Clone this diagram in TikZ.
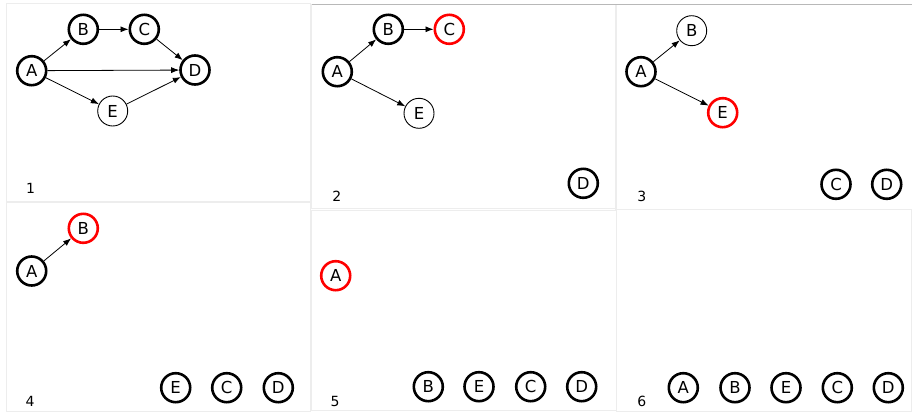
\documentclass[tikz,border=0pt]{standalone}
\usepackage{fontspec}
\setsansfont{DejaVu Sans}
\usetikzlibrary{arrows.meta}
\begin{document}
\begin{tikzpicture}[font=\sffamily, x=1pt, y=-1pt]

        % Stili per nodi, archi e cornici
        \tikzstyle{vtx}=[circle, draw, line width=2.6pt, minimum size=29pt, inner sep=0pt, font=\sffamily\fontsize{16.5}{16.5}\selectfont]
        \tikzstyle{vtxthin}=[vtx, line width=0.9pt, minimum size=30pt]
        \tikzstyle{vtxred}=[vtx, draw=red]
        \tikzstyle{edge}=[-{Latex[length=8pt,width=6pt]}, line width=0.8pt]
        \tikzstyle{frame}=[draw=black!7, line width=1pt]
        \tikzstyle{num}=[font=\sffamily\fontsize{14}{14}\selectfont]

        \useasboundingbox (0,0) rectangle (912,412);

        % Cornici dei sei riquadri
        \draw[frame] (6.5,4) rectangle (310,201.5);
        \draw[frame] (311.5,5) rectangle (616.5,208.5);
        \draw[frame] (615.5,5) rectangle (912,209);
        \draw[frame] (6.5,202.5) rectangle (310,411);
        \draw[frame] (311.5,210) rectangle (616.5,410.5);
        \draw[frame] (616.5,209) rectangle (911.5,411.5);
        \draw[draw=black!28, line width=1pt] (311.5,5) -- (911.5,5);

        % Riquadro 1: grafo completo
        \node[vtx] (a1) at (31.7,70.7) {A};
        \node[vtx] (b1) at (83.3,29.3) {B};
        \node[vtx] (c1) at (144.3,29.3) {C};
        \node[vtx] (d1) at (195,70) {D};
        \node[vtxthin] (e1) at (112.7,111) {E};
        \draw[edge] (a1) -- (b1);
        \draw[edge] (b1) -- (c1);
        \draw[edge] (c1) -- (d1);
        \draw[edge] (a1) -- (d1);
        \draw[edge] (a1) -- (e1);
        \draw[edge] (e1) -- (d1);
        \node[num] (n1) at (30.7,188) {1};

        % Riquadro 2: C in rosso
        \node[vtx] (a2) at (337.3,71.7) {A};
        \node[vtx] (b2) at (388.3,29.3) {B};
        \node[vtxred] (c2) at (449.3,29.3) {C};
        \node[vtxthin] (e2) at (419,113.3) {E};
        \node[vtx] (d2) at (583.3,183.3) {D};
        \draw[edge] (a2) -- (b2);
        \draw[edge] (b2) -- (c2);
        \draw[edge] (a2) -- (e2);
        \node[num] (n2) at (336.7,196.7) {2};

        % Riquadro 3: E in rosso
        \node[vtx] (a3) at (641,71.7) {A};
        \node[vtxthin] (b3) at (691.7,30.7) {B};
        \node[vtxred] (e3) at (722.7,112.7) {E};
        \node[vtx] (c3) at (836,184.3) {C};
        \node[vtx] (d3) at (886.7,184.3) {D};
        \draw[edge] (a3) -- (b3);
        \draw[edge] (a3) -- (e3);
        \node[num] (n3) at (641.7,196.7) {3};

        % Riquadro 4: B in rosso
        \node[vtx] (a4) at (31.7,271) {A};
        \node[vtxred] (b4) at (83.3,228.3) {B};
        \node[vtx] (e4) at (175.7,387.7) {E};
        \node[vtx] (c4) at (226.7,387.7) {C};
        \node[vtx] (d4) at (278.3,387.7) {D};
        \draw[edge] (a4) -- (b4);
        \node[num] (n4) at (30,401.7) {4};

        % Riquadro 5: A in rosso
        \node[vtxred] (a5) at (335.7,275.7) {A};
        \node[vtx] (b5) at (428.3,386.7) {B};
        \node[vtx] (e5) at (479,386.7) {E};
        \node[vtx] (c5) at (530.7,386.7) {C};
        \node[vtx] (d5) at (581.7,386.7) {D};
        \node[num] (n5) at (335,401.7) {5};

        % Riquadro 6: ordine finale
        \node[vtx] (a6) at (683.3,387.7) {A};
        \node[vtx] (b6) at (735,387.7) {B};
        \node[vtx] (e6) at (786,387.7) {E};
        \node[vtx] (c6) at (837.3,387.7) {C};
        \node[vtx] (d6) at (888.3,387.7) {D};
        \node[num] (n6) at (641.7,401.7) {6};

\end{tikzpicture}
\end{document}
